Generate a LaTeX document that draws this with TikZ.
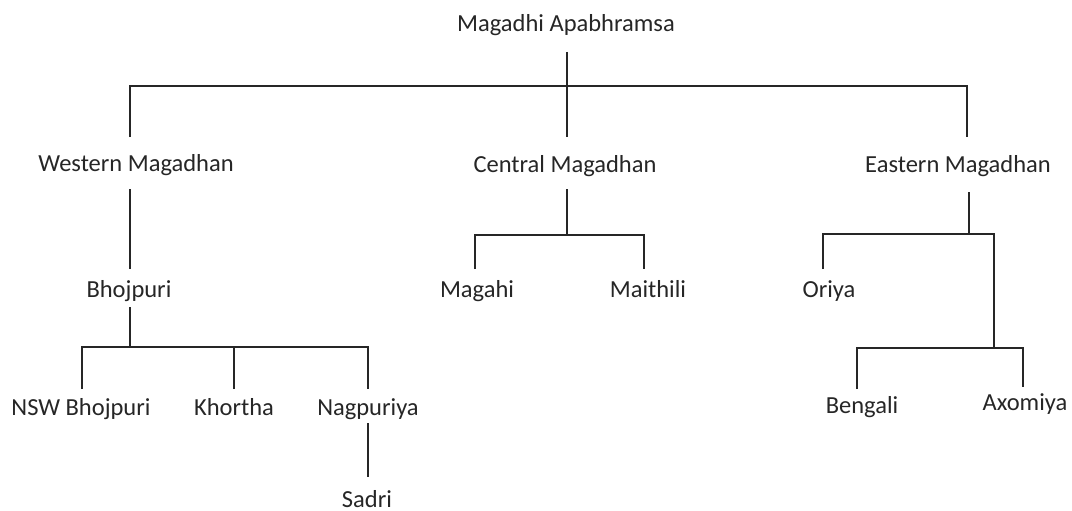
\documentclass[tikz,border=0pt]{standalone}
\usepackage{fontspec}
\setmainfont{Carlito}
\begin{document}
\begin{tikzpicture}[x=1pt,y=-1pt,
  lbl/.style={inner sep=0pt,anchor=base,font=\fontsize{24.5}{28}\selectfont,text=black!85},
  conn/.style={draw=black!85,line width=1.6pt}]
\useasboundingbox (0,0) rectangle (1072,511);
% labels
\node[lbl] (root) at (566,32) {Magadhi Apabhramsa};
\node[lbl] (west) at (136,171) {Western Magadhan};
\node[lbl] (cent) at (565,172) {Central Magadhan};
\node[lbl] (east) at (958,172) {Eastern Magadhan};
\node[lbl] (bhoj) at (129,297) {Bhojpuri};
\node[lbl] (magahi) at (477,297) {Magahi};
\node[lbl] (maith) at (648,297) {Maithili};
\node[lbl] (oriya) at (829,297) {Oriya};
\node[lbl] (nsw) at (81,415) {NSW Bhojpuri};
\node[lbl] (khor) at (234,415) {Khortha};
\node[lbl] (nagp) at (368,415) {Nagpuriya};
\node[lbl] (sadri) at (367,507) {Sadri};
\node[lbl] (beng) at (862,413) {Bengali};
\node[lbl] (axom) at (1025,410) {Axomiya};
% connector end points
\coordinate (rootB) at (567,52);
\coordinate (jroot) at (567,86);
\coordinate (westT) at (130,137);
\coordinate (centT) at (567,137);
\coordinate (eastT) at (967,137);
\coordinate (westB) at (130,189);
\coordinate (bhojT) at (130,269);
\coordinate (bhojB) at (130,307);
\coordinate (jbhoj) at (130,347);
\coordinate (nswT) at (82,389);
\coordinate (khorT) at (234,389);
\coordinate (nagpT) at (368,389);
\coordinate (nagpB) at (368,423);
\coordinate (sadriT) at (368,477);
\coordinate (centB) at (567,189);
\coordinate (jcent) at (567,235);
\coordinate (magahiT) at (475,269);
\coordinate (maithT) at (644,269);
\coordinate (eastB) at (969,192);
\coordinate (jeast) at (969,234);
\coordinate (oriyaT) at (823,269);
\coordinate (jeast2) at (994,348);
\coordinate (bengT) at (857,389);
\coordinate (axomT) at (1023,387);
% connectors
\draw[conn] (rootB) -- (jroot);
\draw[conn] (westT) |- (jroot) -| (eastT);
\draw[conn] (jroot) -- (centT);
\draw[conn] (westB) -- (bhojT);
\draw[conn] (bhojB) -- (jbhoj);
\draw[conn] (nswT) |- (jbhoj) -| (nagpT);
\draw[conn] (khorT) -- (khorT |- jbhoj);
\draw[conn] (nagpB) -- (sadriT);
\draw[conn] (centB) -- (jcent);
\draw[conn] (magahiT) |- (jcent) -| (maithT);
\draw[conn] (eastB) -- (jeast);
\draw[conn] (oriyaT) |- (jeast) -| (jeast2);
\draw[conn] (bengT) |- (jeast2) -| (axomT);
\end{tikzpicture}
\end{document}
